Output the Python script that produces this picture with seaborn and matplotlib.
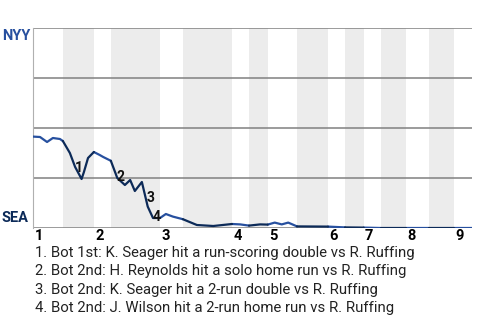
import matplotlib
matplotlib.use("Agg")
import matplotlib.pyplot as plt
import seaborn as sns
import pandas as pd
from matplotlib.transforms import ScaledTranslation

# Half-inning boundaries (plate-appearance units): top1, bot1, top2, ... top9, end
bounds = [0, 5.1, 10.4, 13.3, 21.7, 25.6, 34.0, 36.9, 40.1, 45.1, 50.4, 53.3,
          56.5, 59.4, 63.7, 67.6, 71.9, 75.0]
inning_labels = ["1", "2", "3", "4", "5", "6", "7", "8", "9"]

# Win probability toward NYY (1 = NYY, 0 = SEA)
wp_x = [0.0, 1.2, 2.4, 3.4, 4.6, 5.1, 6.3, 7.2, 8.3, 8.7, 9.4, 10.4, 11.4, 12.0,
        13.3, 14.4, 15.7, 16.6, 17.4, 18.6, 19.6, 20.5, 21.7, 22.7, 23.9, 25.6,
        28.0, 30.8, 34.0, 35.4, 36.9, 38.8, 40.1, 41.3, 42.5, 43.6, 44.4, 45.1,
        50.4, 53.3, 56.5, 59.4, 63.7, 67.6, 71.9, 75.0]
wp_y = [0.457, 0.455, 0.43, 0.45, 0.445, 0.435, 0.375, 0.305, 0.245, 0.28, 0.35,
        0.38, 0.365, 0.355, 0.336, 0.25, 0.215, 0.24, 0.185, 0.23, 0.107, 0.05,
        0.05, 0.07, 0.057, 0.044, 0.015, 0.01, 0.02, 0.018, 0.012, 0.018, 0.017,
        0.027, 0.018, 0.027, 0.017, 0.008, 0.007, 0.003, 0.002, 0.0, 0.0, 0.0,
        0.0, 0.0]

event_nums = ["1", "2", "3", "4"]
event_x = [7.75, 14.95, 20.1, 21.1]
event_y = [0.30, 0.257, 0.149, 0.057]
event_text = [
    "1. Bot 1st: K. Seager hit a run-scoring double vs R. Ruffing",
    "2. Bot 2nd: H. Reynolds hit a solo home run vs R. Ruffing",
    "3. Bot 2nd: K. Seager hit a 2-run double vs R. Ruffing",
    "4. Bot 2nd: J. Wilson hit a 2-run home run vs R. Ruffing",
]

NYY_C = "#27509f"
SEA_C = "#0c2a58"

sns.set_theme(style="white")
plt.rcParams["font.family"] = ["Roboto", "DejaVu Sans"]

# Build segments per half-inning
rows = []
for h in range(len(bounds) - 1):
    lo, hi = bounds[h], bounds[h + 1]
    team = "NYY" if h % 2 == 0 else "SEA"
    for x, y in zip(wp_x, wp_y):
        if lo - 1e-9 <= x <= hi + 1e-9:
            rows.append({"x": x, "wp": y, "half": h, "team": team})
df = pd.DataFrame(rows)

fig = plt.figure(figsize=(4.8, 3.2), dpi=100)
ax = fig.add_axes([33 / 480, 1 - 228 / 320, (472 - 33) / 480, 200 / 320])

for h in range(1, len(bounds) - 1, 2):
    ax.axvspan(bounds[h], bounds[h + 1], color="#ececec", lw=0, zorder=0)

for gy in [0, 0.25, 0.5, 0.75, 1.0]:
    ax.axhline(gy, color="#808080", lw=1.1, zorder=1)

sns.lineplot(data=df, x="x", y="wp", hue="team", units="half", estimator=None,
             palette={"NYY": NYY_C, "SEA": SEA_C}, legend=False, lw=1.6,
             ax=ax, zorder=3)

for n, x, y in zip(event_nums, event_x, event_y):
    ax.text(x, y, n, ha="center", va="center", fontsize=10, fontweight="bold",
            color="#111111", zorder=4)

ax.set_xlim(bounds[0], bounds[-1])
ax.set_ylim(0, 1)
ax.set_xlabel("")
ax.set_ylabel("")
ax.set_yticks([])
ax.set_xticks([bounds[i] for i in range(0, len(bounds) - 1, 2)])
ax.set_xticklabels(inning_labels, fontweight="bold", fontsize=10.5,
                   color="#000000", ha="left")
ax.tick_params(axis="x", length=0, pad=1.0)
off = ScaledTranslation(1.0 / 72, 0, fig.dpi_scale_trans)
for lbl in ax.get_xticklabels():
    lbl.set_transform(lbl.get_transform() + off)

for s in ["top", "right", "bottom"]:
    ax.spines[s].set_visible(False)
ax.spines["left"].set_color("#b0b0b0")
ax.spines["left"].set_linewidth(0.8)

ax.annotate("NYY", xy=(0, 1), xycoords="axes fraction", xytext=(-2, -1),
            textcoords="offset points", ha="right", va="top", fontsize=10.5,
            fontweight="bold", color=NYY_C)
ax.annotate("SEA", xy=(0, 0), xycoords="axes fraction", xytext=(-3, 2),
            textcoords="offset points", ha="right", va="bottom", fontsize=10.5,
            fontweight="bold", color=SEA_C)

for i, t in enumerate(event_text):
    fig.text(35 / 480, 1 - (253 + 18.3 * i) / 320, t, ha="left", va="center",
             fontsize=10.7, color="#222222")

fig.savefig("out.png", dpi=100)
